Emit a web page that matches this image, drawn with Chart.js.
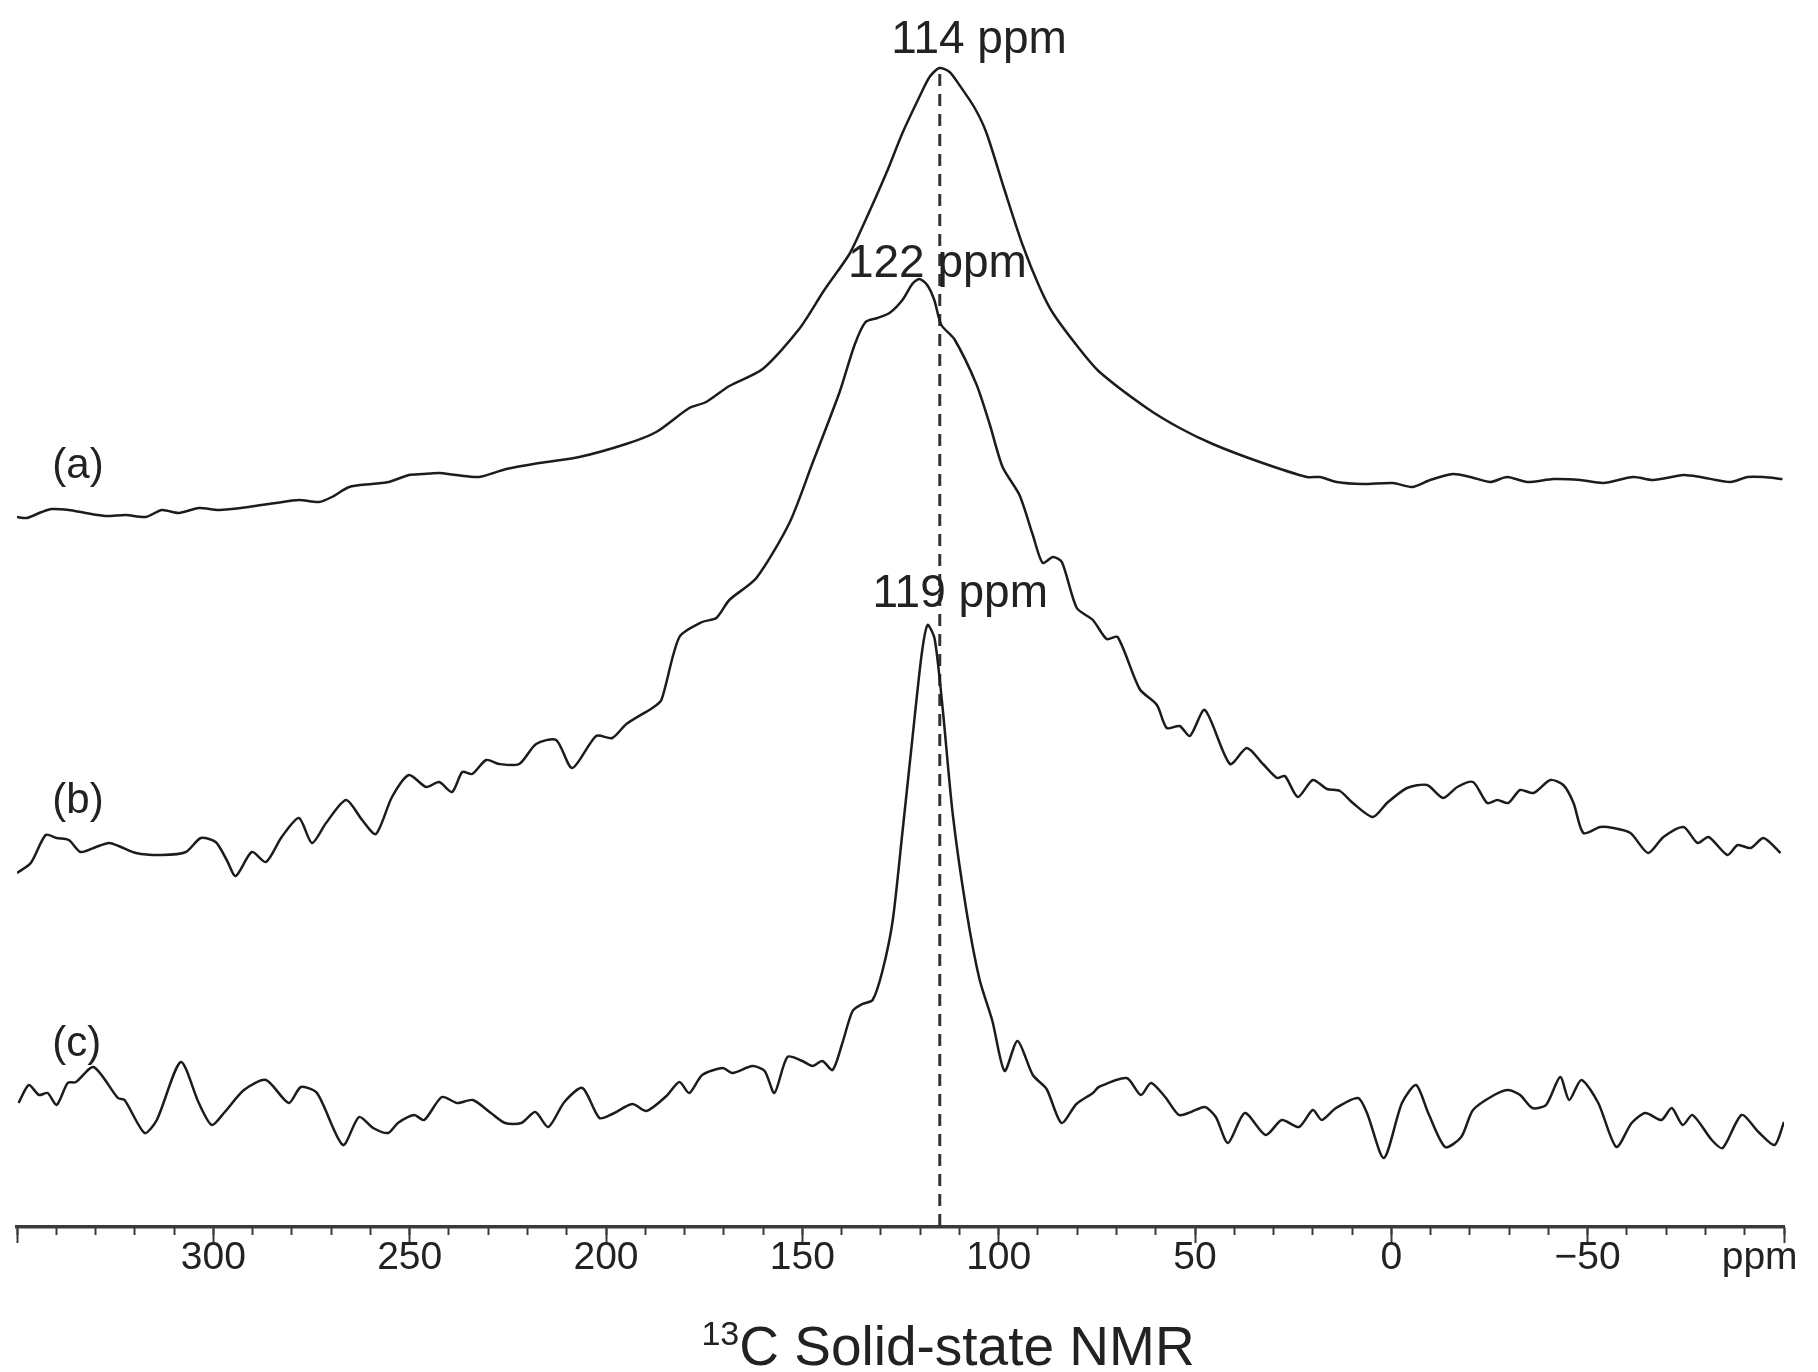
<!DOCTYPE html>
<html>
<head>
<meta charset="utf-8">
<script src="https://cdn.jsdelivr.net/npm/chart.js@4.4.0/dist/chart.umd.min.js"></script>
<style>
  html, body { margin: 0; padding: 0; background: #ffffff; }
  canvas { display: block; }
</style>
</head>
<body>
<canvas id="nmr" width="1818" height="1372"></canvas>
<script>
// ---------------- DATA ----------------
// chemical shift (ppm) and intensity (arbitrary units) for each spectrum
const ppmA = [350, 347.5, 343.7, 341.2, 336.8, 332.5, 327.4, 322.3, 317.2, 313.1,
  308.8, 303.7, 298.6, 291.0, 284.1, 278.2, 273.1, 269.8, 265.4, 259.6,
  255.3, 250.2, 246.8, 242.5, 238.2, 232.3, 225.4, 217.0, 206.8, 194.9,
  187.2, 178.8, 174.5, 168.6, 160.1, 150.8, 144.4, 138.0, 134.7, 128.6,
  124.5, 120.2, 117.6, 115.1, 112.5, 110.0, 106.1, 103.1, 98.5, 93.9,
  89.6, 86.2, 79.4, 74.3, 62.3, 53.9, 45.5, 33.5, 21.5, 18.2,
  13.9, 7.3, -0.4, -5.3, -9.9, -15.7, -20.1, -25.2, -29.5, -34.6,
  -41.3, -48.1, -54.0, -61.6, -66.7, -74.4, -78.7, -86.4, -90.7, -94.8, -99.6];
const intA = [0, -1, 5, 8, 7, 4, 1, 2, 0, 7,
  4, 9, 7, 10, 14, 17, 15, 20, 30, 33,
  35, 42, 43, 44, 42, 40, 48, 54, 60, 73,
  85, 109, 115, 131, 148, 188, 227, 263, 290, 344,
  384, 420, 440, 449, 445, 432, 409, 384, 327, 272,
  230, 204, 168, 145, 109, 89, 73, 55, 40, 40,
  35, 33, 34, 30, 37, 43, 40, 35, 40, 35,
  38, 37, 34, 40, 37, 42, 40, 35, 40, 40, 38];

const ppmB = [350, 346.5, 342.7, 339.9, 336.8, 333.8, 329.9, 326.6, 324.1, 319.7,
  313.1, 307.0, 303.2, 299.4, 296.6, 294.3, 290.2, 286.6, 282.6, 278.2,
  274.9, 271.3, 266.2, 262.1, 258.6, 254.5, 250.2, 245.8, 242.5, 239.2,
  236.6, 234.1, 230.5, 227.2, 222.1, 217.8, 212.7, 208.6, 202.5, 198.4,
  194.8, 188.2, 185.9, 181.3, 175.5, 171.9, 168.6, 161.7, 153.3, 147.4,
  140.5, 136.7, 133.9, 130.9, 127.8, 124.5, 122.0, 120.2, 118.2, 116.4,
  114.6, 111.3, 105.7, 102.3, 99.0, 94.7, 91.3, 88.8, 86.2, 83.9,
  80.1, 76.0, 72.5, 69.7, 64.1, 59.7, 57.2, 53.9, 51.3, 47.5,
  41.1, 36.8, 32.7, 29.1, 27.1, 23.8, 20.0, 16.4, 13.1, 9.8,
  4.7, 1.1, -4.0, -9.1, -13.2, -16.8, -20.8, -24.4, -27.0, -29.8,
  -32.8, -36.2, -40.5, -43.8, -46.4, -48.9, -53.2, -56.5, -60.9, -65.4,
  -69.3, -74.4, -78.0, -80.8, -85.6, -88.2, -91.5, -94.8, -99.1];
const intB = [-21, -11, 17, 14, 12, 0, 5, 9, 6, -1,
  -3, 0, 14, 10, -8, -24, 0, -10, 15, 34,
  9, 29, 52, 32, 18, 55, 77, 65, 70, 60,
  80, 78, 92, 88, 88, 108, 112, 84, 116, 114,
  128, 144, 152, 215, 230, 234, 252, 274, 329, 389,
  460, 507, 530, 534, 539, 552, 568, 573, 567, 552,
  527, 513, 468, 428, 385, 357, 317, 289, 295, 290,
  244, 232, 213, 215, 163, 147, 124, 126, 116, 142,
  88, 104, 88, 74, 76, 55, 72, 63, 61, 49,
  35, 49, 64, 67, 54, 65, 70, 49, 52, 49,
  62, 59, 72, 67, 49, 19, 25, 24, 19, -1,
  15, 25, 9, 15, -3, 7, 4, 14, -1];

const ppmC = [349.6, 347.0, 344.4, 342.2, 339.9, 337.1, 335.0, 330.5, 324.3, 322.6,
  317.5, 314.4, 308.3, 303.7, 300.4, 297.3, 292.2, 286.6, 280.8, 277.7,
  273.6, 267.0, 262.9, 259.3, 255.5, 253.0, 248.9, 246.3, 241.8, 237.9,
  233.9, 229.3, 225.7, 221.6, 218.0, 214.7, 210.6, 206.0, 201.7, 198.4,
  193.3, 189.7, 184.6, 181.3, 178.8, 175.5, 170.3, 167.8, 162.7, 159.6,
  157.1, 153.8, 150.0, 147.4, 144.9, 142.3, 139.8, 137.2, 134.7, 132.1,
  129.6, 127.0, 124.5, 121.9, 119.6, 118.1, 116.3, 114.3, 111.7, 108.2,
  104.9, 101.6, 98.5, 95.2, 91.3, 87.8, 84.0, 80.2, 76.0, 74.5,
  67.4, 63.8, 61.2, 57.6, 54.1, 51.0, 47.5, 44.7, 41.6, 37.3,
  32.0, 27.9, 23.5, 20.0, 17.7, 14.1, 8.5, 6.2, 1.9, -2.7,
  -6.3, -9.4, -13.7, -17.8, -20.8, -26.2, -29.8, -32.8, -35.9, -39.4,
  -43.0, -45.3, -48.4, -52.7, -57.3, -61.2, -64.7, -68.8, -71.4, -74.2,
  -76.7, -81.6, -84.4, -89.2, -93.5, -97.6, -100];
const intC = [-1, 17, 7, 9, -3, 19, 20, 35, 4, 2,
  -31, -18, 40, -1, -23, -11, 12, 22, -1, 15,
  9, -43, -15, -26, -31, -21, -13, -18, 5, -1,
  2, -11, -21, -21, -10, -25, 0, 14, -16, -12,
  -2, -9, 6, 20, 9, 27, 34, 29, 36, 31,
  9, 45, 41, 36, 41, 32, 59, 91, 98, 102,
  131, 181, 270, 366, 448, 477, 463, 395, 288, 191,
  123, 81, 31, 61, 27, 13, -21, -2, 9, 15,
  24, 7, 19, 5, -13, -10, -5, -15, -41, -11,
  -33, -18, -25, -8, -18, -6, 4, -11, -56, -1,
  17, -11, -45, -35, -8, 7, 12, 7, -6, -3,
  25, 2, 22, -1, -45, -21, -11, -18, -6, -23,
  -13, -38, -46, -13, -30, -43, -20];

// vertical stacking offsets of the three traces
const stackOffsets = [710, 375, 125];
const spectrumTags = ['(a)', '(b)', '(c)'];
const peakLabels = ['114 ppm', '122 ppm', '119 ppm'];
const peakMarkerPpm = 115;          // dashed reference line

// axis
const xMin = -100, xMax = 350;
const majorStep = 50, minorStep = 10;
const axisTitleSup = '13';
const axisTitleMain = 'C Solid-state NMR';
const axisUnit = 'ppm';

// ---------------- layout / style ----------------
const FONT = '"Liberation Sans", Arial, Helvetica, sans-serif';
const AXIS_SPACE = 145;
const Y_MAX = 1227;
const INK = '#1c1c1c';
const TICK_FONT = 39, TICK_LH = 0.8, TICK_PAD = 0, MAJOR_LEN = 16;

// annotation placement (in axis units: ppm, intensity)
const peakLabelPos = [[105, 1174], [115.6, 950], [109.8, 620]];
const tagPos = [[341, 749], [341, 414], [341, 171]];
const unitPos = -93.8;
const titleCenterPpm = 112.9;
const titleBaseline = -138;

function build(ppm, inten, k) {
  return ppm.map((p, i) => ({ x: p, y: inten[i] + stackOffsets[k] }));
}
const peakTop = Math.max(...intA) + stackOffsets[0] - 6;
const markerData = [{ x: peakMarkerPpm, y: peakTop }, { x: peakMarkerPpm, y: 0 }];

const lineStyle = { borderColor: INK, borderWidth: 2.5, pointRadius: 0, tension: 0.25, fill: false };

const annotPlugin = {
  id: 'annot',
  afterDatasetsDraw(chart) {
    const { ctx, scales } = chart;
    const x = scales.x, y = scales.y, xm = scales.xMajor;
    ctx.save();
    ctx.fillStyle = '#222';
    ctx.textBaseline = 'alphabetic';
    // peak labels
    ctx.font = '46px ' + FONT;
    ctx.textAlign = 'center';
    peakLabels.forEach((t, i) => {
      ctx.fillText(t, x.getPixelForValue(peakLabelPos[i][0]), y.getPixelForValue(peakLabelPos[i][1]));
    });
    // spectrum tags
    ctx.font = '42px ' + FONT;
    ctx.textAlign = 'left';
    spectrumTags.forEach((t, i) => {
      ctx.fillText(t, x.getPixelForValue(tagPos[i][0]), y.getPixelForValue(tagPos[i][1]));
    });
    // unit label on tick row
    ctx.font = TICK_FONT + 'px ' + FONT;
    ctx.textAlign = 'center';
    ctx.textBaseline = 'middle';
    ctx.fillText(axisUnit, x.getPixelForValue(unitPos), xm.top + MAJOR_LEN + TICK_PAD + TICK_FONT * TICK_LH / 2);
    // axis title with superscript
    ctx.textBaseline = 'alphabetic';
    ctx.textAlign = 'left';
    const main = 55, sup = 34;
    ctx.font = sup + 'px ' + FONT;
    const wSup = ctx.measureText(axisTitleSup).width;
    ctx.font = main + 'px ' + FONT;
    const wMain = ctx.measureText(axisTitleMain).width;
    const cx = x.getPixelForValue(titleCenterPpm);
    const by = y.getPixelForValue(titleBaseline);
    const x0 = cx - (wSup + wMain) / 2;
    ctx.font = sup + 'px ' + FONT;
    ctx.fillText(axisTitleSup, x0, by - main * 0.36);
    ctx.font = main + 'px ' + FONT;
    ctx.fillText(axisTitleMain, x0 + wSup, by);
    ctx.restore();
  }
};

new Chart(document.getElementById('nmr').getContext('2d'), {
  type: 'line',
  data: {
    datasets: [
      Object.assign({ label: 'a', data: build(ppmA, intA, 0) }, lineStyle),
      Object.assign({ label: 'b', data: build(ppmB, intB, 1) }, lineStyle),
      Object.assign({ label: 'c', data: build(ppmC, intC, 2) }, lineStyle),
      { label: 'marker', data: markerData, borderColor: '#333', borderWidth: 3, borderDash: [12, 8],
        pointRadius: 0, tension: 0, fill: false }
    ]
  },
  options: {
    responsive: false,
    animation: false,
    devicePixelRatio: 1,
    layout: { padding: { left: 17, right: 34, top: 0, bottom: 0 } },
    plugins: { legend: { display: false }, tooltip: { enabled: false } },
    scales: {
      x: {
        type: 'linear', position: 'bottom', reverse: true, min: xMin, max: xMax, weight: 0,
        ticks: { display: false, stepSize: minorStep, autoSkip: false },
        grid: { drawOnChartArea: false, drawTicks: true, tickLength: 8, tickWidth: 2, tickColor: '#3a3a3a' },
        border: { display: false },
        afterFit: s => { s.height = 0; s.paddingLeft = 0; s.paddingRight = 0; }
      },
      xMajor: {
        type: 'linear', axis: 'x', position: 'bottom', reverse: true, min: xMin, max: xMax, weight: 1,
        ticks: {
          stepSize: majorStep, autoSkip: false, maxRotation: 0, padding: TICK_PAD, color: '#222',
          font: { family: FONT, size: TICK_FONT, lineHeight: TICK_LH },
          callback: v => (v === xMin || v === xMax) ? '' : (v < 0 ? '\u2212' + Math.abs(v) : String(v))
        },
        grid: { drawOnChartArea: false, drawTicks: true, tickLength: MAJOR_LEN, tickWidth: 2, tickColor: '#3a3a3a' },
        border: { display: true, color: '#3a3a3a', width: 3.5 },
        afterFit: s => { s.height = AXIS_SPACE; s.paddingLeft = 0; s.paddingRight = 0; }
      },
      y: { display: false, min: 0, max: Y_MAX }
    }
  },
  plugins: [annotPlugin]
});
</script>
</body>
</html>
